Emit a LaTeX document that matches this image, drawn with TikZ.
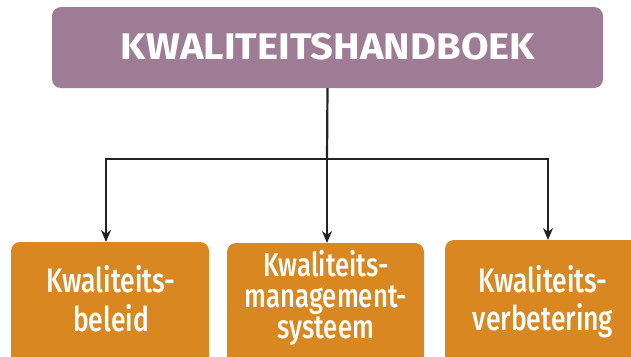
\documentclass[tikz,border=0pt]{standalone}
\usepackage{fontspec}
\setmainfont{Fira Sans}
\newfontfamily\condfont[FakeStretch=0.78]{Fira Sans Medium}
\newfontfamily\condbold[FakeStretch=1.08]{Fira Sans Bold}
\usetikzlibrary{arrows.meta}
\definecolor{kpurple}{HTML}{9E7C95}
\definecolor{korange}{HTML}{D98821}
\definecolor{kline}{HTML}{222222}
\tikzset{
  topbox/.style={draw=none, fill=kpurple, rounded corners=9pt},
  subbox/.style={draw=none, fill=korange, rounded corners=9pt},
  toptext/.style={text=white, font=\condbold\fontsize{37}{40}\selectfont, inner sep=0pt},
  subtext/.style={text=white, align=center, inner sep=0pt},
  conn/.style={draw=kline, line width=2.2pt},
  arr/.style={conn, -{Stealth[length=12pt, width=10pt]}}
}
\begin{document}
\begin{tikzpicture}[x=1pt, y=-1pt]
\useasboundingbox (0,0) rectangle (631,356);
\clip (0,0) rectangle (631,356);
% boxes
\path[topbox] (52,7) rectangle (603,88);
\node[inner sep=0pt, minimum width=551pt, minimum height=81pt] (top) at (327.5,47.5) {};
\path[subbox] (11,242) rectangle (209,380);
\path[subbox] (227,243) rectangle (424,380);
\path[subbox] (445,240) rectangle (645,380);
\node[inner sep=0pt, minimum width=198pt, minimum height=1pt, anchor=north] (b1) at (106,242) {};
\node[inner sep=0pt, minimum width=197pt, minimum height=1pt, anchor=north] (b2) at (327,243) {};
\node[inner sep=0pt, minimum width=200pt, minimum height=1pt, anchor=north] (b3) at (548,240) {};
% texts
\node[toptext] (tt) at (328,47) {KWALITEITSHANDBOEK};
\node[subtext, font=\condfont\fontsize{34}{39}\selectfont] (t1) at (111,299) {Kwaliteits-\\beleid};
\node[subtext, font=\condfont\fontsize{33}{31}\selectfont] (t2) at (326,298) {Kwaliteits-\\management-\\systeem};
\node[subtext, font=\condfont\fontsize{34}{38}\selectfont] (t3) at (543,302) {Kwaliteits-\\verbetering};
% connectors
\coordinate (j) at (327,159);
\draw[conn] (top.south) -- (j);
\draw[arr] (j) -| (b1.north);
\draw[arr] (j) -- (b2.north);
\draw[arr] (j) -| (b3.north);
\end{tikzpicture}
\end{document}
